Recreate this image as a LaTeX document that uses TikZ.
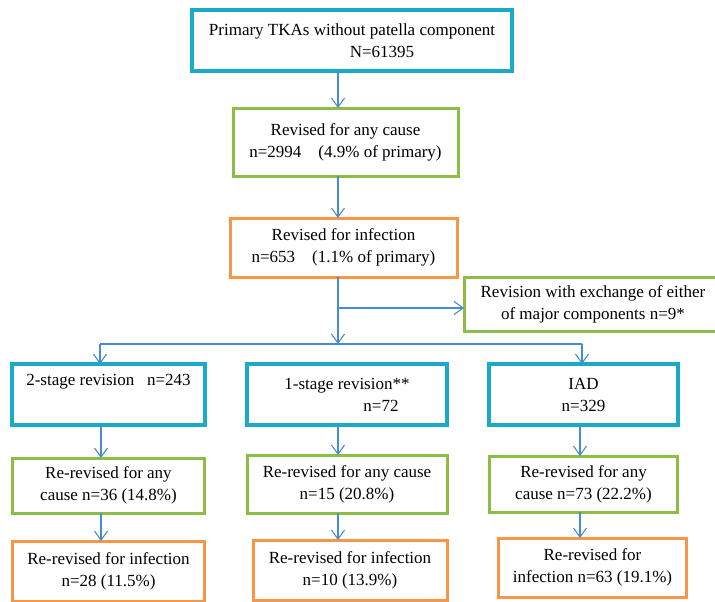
\documentclass[tikz,border=0pt]{standalone}
\usepackage{fontspec}
\setmainfont{Liberation Serif}
\usepackage{tikz}
\usetikzlibrary{positioning,arrows.meta}

\definecolor{tkteal}{RGB}{25,170,200}
\definecolor{tkgreen}{RGB}{140,190,70}
\definecolor{tkorange}{RGB}{247,150,70}
\definecolor{tkblue}{RGB}{70,140,210}

\begin{document}
\begin{tikzpicture}[x=1pt, y=-1pt,
    every node/.style={font=\fontsize{17}{22}\selectfont},
    box/.style={draw, line width=3pt, inner sep=3pt, outer sep=0pt, align=center},
    tealbox/.style={box, draw=tkteal, line width=3.6pt},
    greenbox/.style={box, draw=tkgreen},
    orangebox/.style={box, draw=tkorange},
    link/.style={draw=tkblue, line width=1.1pt},
    arr/.style={link, -{Straight Barb[length=9pt,width=13pt]}}]

    \useasboundingbox (0,0) rectangle (715,602);

    \node[tealbox, minimum width=320pt, minimum height=61pt] (prim) at (352,40.5)
        {Primary TKAs without patella component\\ \hspace*{60pt}N=61395};
    \node[greenbox, minimum width=225pt, minimum height=68pt, below=37pt of prim, xshift=-6.5pt] (anycause)
        {Revised for any cause\\ n=2994\quad(4.9\% of primary)};
    \node[orangebox, minimum width=227pt, minimum height=59pt, below=42pt of anycause, xshift=-2pt] (infect)
        {Revised for infection\\ n=653\quad(1.1\% of primary)};
    \node[greenbox, minimum width=258pt, minimum height=54pt, right=7pt of infect.south east, anchor=north west] (exch)
        {Revision with exchange of either\\ of major components n=9*};

    \node[tealbox, minimum width=200pt, minimum height=61pt, below=87pt of infect, xshift=3.5pt] (onestage)
        {1-stage revision**\\ \hspace*{68pt}n=72};
    \node[tealbox, minimum width=193pt, minimum height=61pt, left=42pt of onestage] (twostage)
        {2-stage revision~~~n=243\\ \strut};
    \node[tealbox, minimum width=189pt, minimum height=61pt, right=42pt of onestage] (iad)
        {IAD\\ n=329};

    \node[greenbox, minimum width=192pt, minimum height=55pt, below=33pt of twostage] (rrany1)
        {Re-revised for any\\ cause n=36 (14.8\%)};
    \node[greenbox, minimum width=200pt, minimum height=58pt, below=30pt of onestage] (rrany2)
        {Re-revised for any cause\\ n=15 (20.8\%)};
    \node[greenbox, minimum width=188pt, minimum height=56pt, below=31pt of iad] (rrany3)
        {Re-revised for any\\ cause n=73 (22.2\%)};

    \node[orangebox, minimum width=192pt, minimum height=60pt, below=28pt of rrany1] (rrinf1)
        {Re-revised for infection\\ n=28 (11.5\%)};
    \node[orangebox, minimum width=194pt, minimum height=60pt, below=27pt of rrany2, xshift=3pt] (rrinf2)
        {Re-revised for infection\\ n=10 (13.9\%)};
    \node[orangebox, minimum width=188pt, minimum height=59pt, below=26pt of rrany3, xshift=9pt] (rrinf3)
        {Re-revised for\\ infection n=63 (19.1\%)};

    % columns and branch points
    \coordinate (colL) at (101,0);
    \coordinate (colM) at (338,0);
    \coordinate (colR) at (580,0);
    \coordinate (split) at (338,308);
    \coordinate (busL) at (100,344);
    \coordinate (busM) at (338,344);
    \coordinate (busR) at (582,344);

    \draw[arr] (prim.south -| colM) -- (anycause.north -| colM);
    \draw[arr] (anycause.south -| colM) -- (infect.north -| colM);
    \draw[arr] (infect.south -| colM) -- (busM);
    \draw[arr] (split) -- (exch.west |- split);
    \draw[link] (busL) -- (busR);
    \draw[arr] (busL) -- (twostage.north -| busL);
    \draw[arr] (busR) -- (iad.north -| busR);

    \foreach \src/\dst/\col in {twostage/rrany1/colL, onestage/rrany2/colM, iad/rrany3/colR,
                                rrany1/rrinf1/colL, rrany2/rrinf2/colM, rrany3/rrinf3/colR}
        \draw[arr] (\src.south -| \col) -- (\dst.north -| \col);

\end{tikzpicture}
\end{document}
